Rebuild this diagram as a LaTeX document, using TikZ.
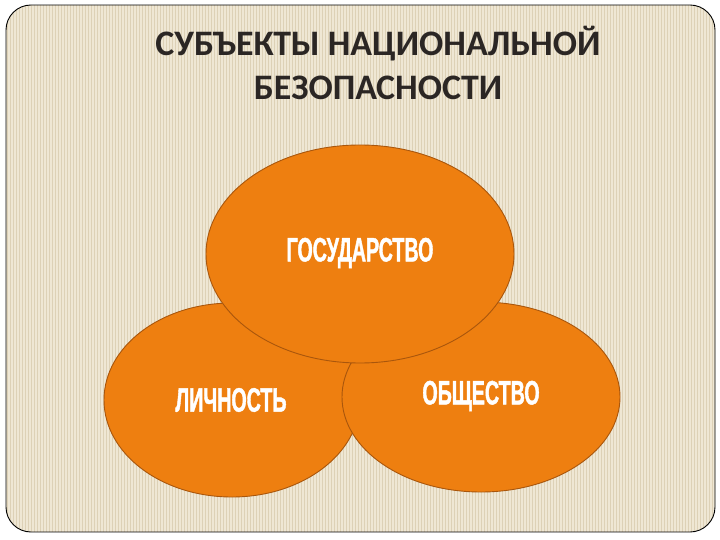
\documentclass[tikz,border=0pt]{standalone}
\usepackage{fontspec}
\usetikzlibrary{shapes.geometric}
\setmainfont{Carlito}
\newfontfamily\labfont[FakeStretch=0.58,FakeBold=1.2]{Liberation Sans Bold}
\definecolor{bgbase}{HTML}{EFE7D4}
\definecolor{bgstripe}{HTML}{DDD1B6}
\definecolor{orng}{HTML}{EE7F10}
\definecolor{orngline}{HTML}{A9560C}
\definecolor{titlec}{HTML}{2B2624}
\tikzset{
  circ/.style={ellipse, draw=orngline, line width=0.9bp, fill=orng, inner sep=0pt},
  lab/.style={text=white, font=\labfont\fontsize{34}{36}\selectfont},
  ttl/.style={text=titlec, font=\bfseries\fontsize{36}{45}\selectfont, align=center}
}
\begin{document}
\begin{tikzpicture}[x=1bp,y=-1bp]
\useasboundingbox (0,0) rectangle (720,540);
\fill[white] (0,0) rectangle (720,540);
\begin{scope}
\clip[rounded corners=25bp] (6,5) rectangle (715,532);
\fill[bgbase] (6,5) rectangle (715,532);
\foreach \i in {0,...,236} {
  \draw[bgstripe, line width=1.2bp] ({7.5+3*\i},5) -- ({7.5+3*\i},532);
}
\end{scope}
\draw[black, line width=0.9bp, rounded corners=25bp] (6,5) rectangle (715,532);
\node[ttl] (title) at (378,63) {СУБЪЕКТЫ НАЦИОНАЛЬНОЙ\\БЕЗОПАСНОСТИ};
\node[circ, minimum width=256bp, minimum height=194bp] (lich) at (232,400) {};
\node[circ, minimum width=278bp, minimum height=190bp] (obsh) at (481,397) {};
\node[circ, minimum width=308bp, minimum height=218bp] (gos) at (360,254) {};
\node[lab] (gost) at (360,253) {ГОСУДАРСТВО};
\node[lab] (licht) at (231,400) {ЛИЧНОСТЬ};
\node[lab] (obsht) at (481,396) {ОБЩЕСТВО};
\end{tikzpicture}
\end{document}
